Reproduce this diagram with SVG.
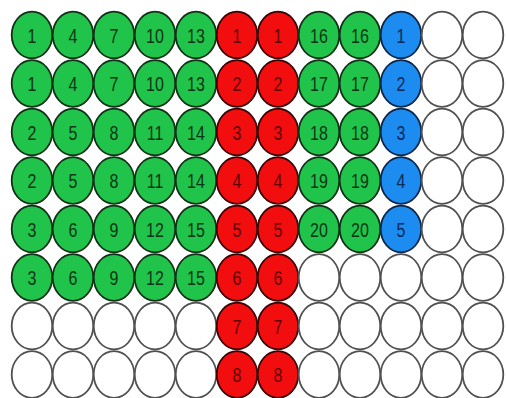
<svg xmlns="http://www.w3.org/2000/svg" width="506" height="398" viewBox="0 0 506 398">
<style>
ellipse{stroke-width:1.8}
.g{fill:#20c44a;stroke:#123018}
.r{fill:#f20e0e;stroke:#350404}
.b{fill:#1c8cf0;stroke:#0a2548}
.w{fill:#ffffff;stroke:#505050}
text{font-family:"Liberation Sans",Arial,sans-serif;font-size:16px;text-anchor:middle}
.tg{fill:#0b3516}
.tr{fill:#600000}
.tb{fill:#0a2a58}
</style>
<rect width="506" height="398" fill="#ffffff"/>
<g id="connectors"/>
<g id="wells">
<!-- row 0 -->
<g id="r0c0" transform="translate(32,35)"><ellipse class="g" rx="20.3" ry="23.3"/><text class="tg" y="6.1" transform="scale(1,1.25)">1</text></g>
<g id="r0c1" transform="translate(73,35)"><ellipse class="g" rx="20.3" ry="23.3"/><text class="tg" y="6.1" transform="scale(1,1.25)">4</text></g>
<g id="r0c2" transform="translate(114,35)"><ellipse class="g" rx="20.3" ry="23.3"/><text class="tg" y="6.1" transform="scale(1,1.25)">7</text></g>
<g id="r0c3" transform="translate(155,35)"><ellipse class="g" rx="20.3" ry="23.3"/><text class="tg" y="6.1" transform="scale(1,1.25)">10</text></g>
<g id="r0c4" transform="translate(196,35)"><ellipse class="g" rx="20.3" ry="23.3"/><text class="tg" y="6.1" transform="scale(1,1.25)">13</text></g>
<g id="r0c5" transform="translate(237,35)"><ellipse class="r" rx="20.3" ry="23.3"/><text class="tr" y="6.1" transform="scale(1,1.25)">1</text></g>
<g id="r0c6" transform="translate(278,35)"><ellipse class="r" rx="20.3" ry="23.3"/><text class="tr" y="6.1" transform="scale(1,1.25)">1</text></g>
<g id="r0c7" transform="translate(319,35)"><ellipse class="g" rx="20.3" ry="23.3"/><text class="tg" y="6.1" transform="scale(1,1.25)">16</text></g>
<g id="r0c8" transform="translate(360,35)"><ellipse class="g" rx="20.3" ry="23.3"/><text class="tg" y="6.1" transform="scale(1,1.25)">16</text></g>
<g id="r0c9" transform="translate(401,35)"><ellipse class="b" rx="20.3" ry="23.3"/><text class="tb" y="6.1" transform="scale(1,1.25)">1</text></g>
<g id="r0c10" transform="translate(442,35)"><ellipse class="w" rx="20.3" ry="23.3"/></g>
<g id="r0c11" transform="translate(483,35)"><ellipse class="w" rx="20.3" ry="23.3"/></g>
<!-- row 1 -->
<g id="r1c0" transform="translate(32,83.5)"><ellipse class="g" rx="20.3" ry="23.3"/><text class="tg" y="6.1" transform="scale(1,1.25)">1</text></g>
<g id="r1c1" transform="translate(73,83.5)"><ellipse class="g" rx="20.3" ry="23.3"/><text class="tg" y="6.1" transform="scale(1,1.25)">4</text></g>
<g id="r1c2" transform="translate(114,83.5)"><ellipse class="g" rx="20.3" ry="23.3"/><text class="tg" y="6.1" transform="scale(1,1.25)">7</text></g>
<g id="r1c3" transform="translate(155,83.5)"><ellipse class="g" rx="20.3" ry="23.3"/><text class="tg" y="6.1" transform="scale(1,1.25)">10</text></g>
<g id="r1c4" transform="translate(196,83.5)"><ellipse class="g" rx="20.3" ry="23.3"/><text class="tg" y="6.1" transform="scale(1,1.25)">13</text></g>
<g id="r1c5" transform="translate(237,83.5)"><ellipse class="r" rx="20.3" ry="23.3"/><text class="tr" y="6.1" transform="scale(1,1.25)">2</text></g>
<g id="r1c6" transform="translate(278,83.5)"><ellipse class="r" rx="20.3" ry="23.3"/><text class="tr" y="6.1" transform="scale(1,1.25)">2</text></g>
<g id="r1c7" transform="translate(319,83.5)"><ellipse class="g" rx="20.3" ry="23.3"/><text class="tg" y="6.1" transform="scale(1,1.25)">17</text></g>
<g id="r1c8" transform="translate(360,83.5)"><ellipse class="g" rx="20.3" ry="23.3"/><text class="tg" y="6.1" transform="scale(1,1.25)">17</text></g>
<g id="r1c9" transform="translate(401,83.5)"><ellipse class="b" rx="20.3" ry="23.3"/><text class="tb" y="6.1" transform="scale(1,1.25)">2</text></g>
<g id="r1c10" transform="translate(442,83.5)"><ellipse class="w" rx="20.3" ry="23.3"/></g>
<g id="r1c11" transform="translate(483,83.5)"><ellipse class="w" rx="20.3" ry="23.3"/></g>
<!-- row 2 -->
<g id="r2c0" transform="translate(32,132)"><ellipse class="g" rx="20.3" ry="23.3"/><text class="tg" y="6.1" transform="scale(1,1.25)">2</text></g>
<g id="r2c1" transform="translate(73,132)"><ellipse class="g" rx="20.3" ry="23.3"/><text class="tg" y="6.1" transform="scale(1,1.25)">5</text></g>
<g id="r2c2" transform="translate(114,132)"><ellipse class="g" rx="20.3" ry="23.3"/><text class="tg" y="6.1" transform="scale(1,1.25)">8</text></g>
<g id="r2c3" transform="translate(155,132)"><ellipse class="g" rx="20.3" ry="23.3"/><text class="tg" y="6.1" transform="scale(1,1.25)">11</text></g>
<g id="r2c4" transform="translate(196,132)"><ellipse class="g" rx="20.3" ry="23.3"/><text class="tg" y="6.1" transform="scale(1,1.25)">14</text></g>
<g id="r2c5" transform="translate(237,132)"><ellipse class="r" rx="20.3" ry="23.3"/><text class="tr" y="6.1" transform="scale(1,1.25)">3</text></g>
<g id="r2c6" transform="translate(278,132)"><ellipse class="r" rx="20.3" ry="23.3"/><text class="tr" y="6.1" transform="scale(1,1.25)">3</text></g>
<g id="r2c7" transform="translate(319,132)"><ellipse class="g" rx="20.3" ry="23.3"/><text class="tg" y="6.1" transform="scale(1,1.25)">18</text></g>
<g id="r2c8" transform="translate(360,132)"><ellipse class="g" rx="20.3" ry="23.3"/><text class="tg" y="6.1" transform="scale(1,1.25)">18</text></g>
<g id="r2c9" transform="translate(401,132)"><ellipse class="b" rx="20.3" ry="23.3"/><text class="tb" y="6.1" transform="scale(1,1.25)">3</text></g>
<g id="r2c10" transform="translate(442,132)"><ellipse class="w" rx="20.3" ry="23.3"/></g>
<g id="r2c11" transform="translate(483,132)"><ellipse class="w" rx="20.3" ry="23.3"/></g>
<!-- row 3 -->
<g id="r3c0" transform="translate(32,180.5)"><ellipse class="g" rx="20.3" ry="23.3"/><text class="tg" y="6.1" transform="scale(1,1.25)">2</text></g>
<g id="r3c1" transform="translate(73,180.5)"><ellipse class="g" rx="20.3" ry="23.3"/><text class="tg" y="6.1" transform="scale(1,1.25)">5</text></g>
<g id="r3c2" transform="translate(114,180.5)"><ellipse class="g" rx="20.3" ry="23.3"/><text class="tg" y="6.1" transform="scale(1,1.25)">8</text></g>
<g id="r3c3" transform="translate(155,180.5)"><ellipse class="g" rx="20.3" ry="23.3"/><text class="tg" y="6.1" transform="scale(1,1.25)">11</text></g>
<g id="r3c4" transform="translate(196,180.5)"><ellipse class="g" rx="20.3" ry="23.3"/><text class="tg" y="6.1" transform="scale(1,1.25)">14</text></g>
<g id="r3c5" transform="translate(237,180.5)"><ellipse class="r" rx="20.3" ry="23.3"/><text class="tr" y="6.1" transform="scale(1,1.25)">4</text></g>
<g id="r3c6" transform="translate(278,180.5)"><ellipse class="r" rx="20.3" ry="23.3"/><text class="tr" y="6.1" transform="scale(1,1.25)">4</text></g>
<g id="r3c7" transform="translate(319,180.5)"><ellipse class="g" rx="20.3" ry="23.3"/><text class="tg" y="6.1" transform="scale(1,1.25)">19</text></g>
<g id="r3c8" transform="translate(360,180.5)"><ellipse class="g" rx="20.3" ry="23.3"/><text class="tg" y="6.1" transform="scale(1,1.25)">19</text></g>
<g id="r3c9" transform="translate(401,180.5)"><ellipse class="b" rx="20.3" ry="23.3"/><text class="tb" y="6.1" transform="scale(1,1.25)">4</text></g>
<g id="r3c10" transform="translate(442,180.5)"><ellipse class="w" rx="20.3" ry="23.3"/></g>
<g id="r3c11" transform="translate(483,180.5)"><ellipse class="w" rx="20.3" ry="23.3"/></g>
<!-- row 4 -->
<g id="r4c0" transform="translate(32,229)"><ellipse class="g" rx="20.3" ry="23.3"/><text class="tg" y="6.1" transform="scale(1,1.25)">3</text></g>
<g id="r4c1" transform="translate(73,229)"><ellipse class="g" rx="20.3" ry="23.3"/><text class="tg" y="6.1" transform="scale(1,1.25)">6</text></g>
<g id="r4c2" transform="translate(114,229)"><ellipse class="g" rx="20.3" ry="23.3"/><text class="tg" y="6.1" transform="scale(1,1.25)">9</text></g>
<g id="r4c3" transform="translate(155,229)"><ellipse class="g" rx="20.3" ry="23.3"/><text class="tg" y="6.1" transform="scale(1,1.25)">12</text></g>
<g id="r4c4" transform="translate(196,229)"><ellipse class="g" rx="20.3" ry="23.3"/><text class="tg" y="6.1" transform="scale(1,1.25)">15</text></g>
<g id="r4c5" transform="translate(237,229)"><ellipse class="r" rx="20.3" ry="23.3"/><text class="tr" y="6.1" transform="scale(1,1.25)">5</text></g>
<g id="r4c6" transform="translate(278,229)"><ellipse class="r" rx="20.3" ry="23.3"/><text class="tr" y="6.1" transform="scale(1,1.25)">5</text></g>
<g id="r4c7" transform="translate(319,229)"><ellipse class="g" rx="20.3" ry="23.3"/><text class="tg" y="6.1" transform="scale(1,1.25)">20</text></g>
<g id="r4c8" transform="translate(360,229)"><ellipse class="g" rx="20.3" ry="23.3"/><text class="tg" y="6.1" transform="scale(1,1.25)">20</text></g>
<g id="r4c9" transform="translate(401,229)"><ellipse class="b" rx="20.3" ry="23.3"/><text class="tb" y="6.1" transform="scale(1,1.25)">5</text></g>
<g id="r4c10" transform="translate(442,229)"><ellipse class="w" rx="20.3" ry="23.3"/></g>
<g id="r4c11" transform="translate(483,229)"><ellipse class="w" rx="20.3" ry="23.3"/></g>
<!-- row 5 -->
<g id="r5c0" transform="translate(32,277.5)"><ellipse class="g" rx="20.3" ry="23.3"/><text class="tg" y="6.1" transform="scale(1,1.25)">3</text></g>
<g id="r5c1" transform="translate(73,277.5)"><ellipse class="g" rx="20.3" ry="23.3"/><text class="tg" y="6.1" transform="scale(1,1.25)">6</text></g>
<g id="r5c2" transform="translate(114,277.5)"><ellipse class="g" rx="20.3" ry="23.3"/><text class="tg" y="6.1" transform="scale(1,1.25)">9</text></g>
<g id="r5c3" transform="translate(155,277.5)"><ellipse class="g" rx="20.3" ry="23.3"/><text class="tg" y="6.1" transform="scale(1,1.25)">12</text></g>
<g id="r5c4" transform="translate(196,277.5)"><ellipse class="g" rx="20.3" ry="23.3"/><text class="tg" y="6.1" transform="scale(1,1.25)">15</text></g>
<g id="r5c5" transform="translate(237,277.5)"><ellipse class="r" rx="20.3" ry="23.3"/><text class="tr" y="6.1" transform="scale(1,1.25)">6</text></g>
<g id="r5c6" transform="translate(278,277.5)"><ellipse class="r" rx="20.3" ry="23.3"/><text class="tr" y="6.1" transform="scale(1,1.25)">6</text></g>
<g id="r5c7" transform="translate(319,277.5)"><ellipse class="w" rx="20.3" ry="23.3"/></g>
<g id="r5c8" transform="translate(360,277.5)"><ellipse class="w" rx="20.3" ry="23.3"/></g>
<g id="r5c9" transform="translate(401,277.5)"><ellipse class="w" rx="20.3" ry="23.3"/></g>
<g id="r5c10" transform="translate(442,277.5)"><ellipse class="w" rx="20.3" ry="23.3"/></g>
<g id="r5c11" transform="translate(483,277.5)"><ellipse class="w" rx="20.3" ry="23.3"/></g>
<!-- row 6 -->
<g id="r6c0" transform="translate(32,326)"><ellipse class="w" rx="20.3" ry="23.3"/></g>
<g id="r6c1" transform="translate(73,326)"><ellipse class="w" rx="20.3" ry="23.3"/></g>
<g id="r6c2" transform="translate(114,326)"><ellipse class="w" rx="20.3" ry="23.3"/></g>
<g id="r6c3" transform="translate(155,326)"><ellipse class="w" rx="20.3" ry="23.3"/></g>
<g id="r6c4" transform="translate(196,326)"><ellipse class="w" rx="20.3" ry="23.3"/></g>
<g id="r6c5" transform="translate(237,326)"><ellipse class="r" rx="20.3" ry="23.3"/><text class="tr" y="6.1" transform="scale(1,1.25)">7</text></g>
<g id="r6c6" transform="translate(278,326)"><ellipse class="r" rx="20.3" ry="23.3"/><text class="tr" y="6.1" transform="scale(1,1.25)">7</text></g>
<g id="r6c7" transform="translate(319,326)"><ellipse class="w" rx="20.3" ry="23.3"/></g>
<g id="r6c8" transform="translate(360,326)"><ellipse class="w" rx="20.3" ry="23.3"/></g>
<g id="r6c9" transform="translate(401,326)"><ellipse class="w" rx="20.3" ry="23.3"/></g>
<g id="r6c10" transform="translate(442,326)"><ellipse class="w" rx="20.3" ry="23.3"/></g>
<g id="r6c11" transform="translate(483,326)"><ellipse class="w" rx="20.3" ry="23.3"/></g>
<!-- row 7 -->
<g id="r7c0" transform="translate(32,374.5)"><ellipse class="w" rx="20.3" ry="23.3"/></g>
<g id="r7c1" transform="translate(73,374.5)"><ellipse class="w" rx="20.3" ry="23.3"/></g>
<g id="r7c2" transform="translate(114,374.5)"><ellipse class="w" rx="20.3" ry="23.3"/></g>
<g id="r7c3" transform="translate(155,374.5)"><ellipse class="w" rx="20.3" ry="23.3"/></g>
<g id="r7c4" transform="translate(196,374.5)"><ellipse class="w" rx="20.3" ry="23.3"/></g>
<g id="r7c5" transform="translate(237,374.5)"><ellipse class="r" rx="20.3" ry="23.3"/><text class="tr" y="6.1" transform="scale(1,1.25)">8</text></g>
<g id="r7c6" transform="translate(278,374.5)"><ellipse class="r" rx="20.3" ry="23.3"/><text class="tr" y="6.1" transform="scale(1,1.25)">8</text></g>
<g id="r7c7" transform="translate(319,374.5)"><ellipse class="w" rx="20.3" ry="23.3"/></g>
<g id="r7c8" transform="translate(360,374.5)"><ellipse class="w" rx="20.3" ry="23.3"/></g>
<g id="r7c9" transform="translate(401,374.5)"><ellipse class="w" rx="20.3" ry="23.3"/></g>
<g id="r7c10" transform="translate(442,374.5)"><ellipse class="w" rx="20.3" ry="23.3"/></g>
<g id="r7c11" transform="translate(483,374.5)"><ellipse class="w" rx="20.3" ry="23.3"/></g>
</g>
</svg>
